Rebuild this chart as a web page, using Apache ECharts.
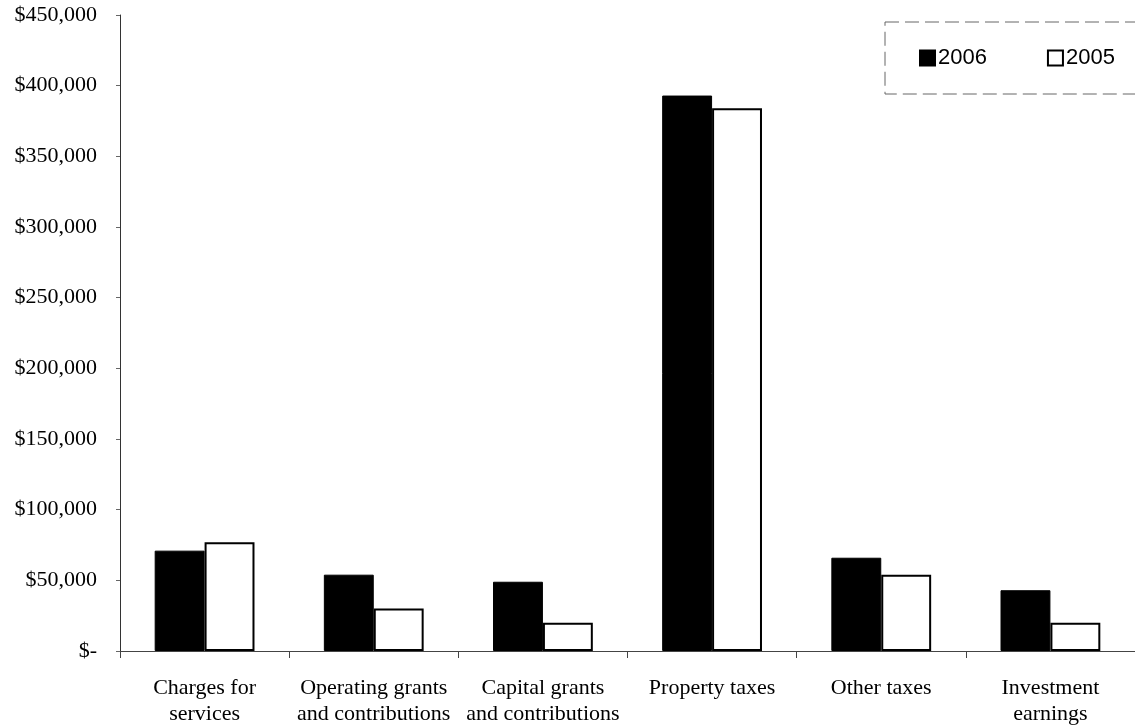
<!DOCTYPE html>
<html>
<head>
<meta charset="utf-8">
<title>Revenues by Source, 2006 and 2005</title>
<script src="https://cdn.jsdelivr.net/npm/echarts@6/dist/echarts.min.js"></script>
<style>
  html, body { margin: 0; padding: 0; background: #ffffff; }
  #chart { width: 1135px; height: 727px; }
</style>
</head>
<body>
<div id="chart"></div>
<script>
// Revenue categories (two-line labels)
const categories = [
  'Charges for\nservices',
  'Operating grants\nand contributions',
  'Capital grants\nand contributions',
  'Property taxes',
  'Other taxes',
  'Investment\nearnings'
];

// Revenue amounts by year
const revenue2006 = [71000, 54000, 49000, 393000, 66000, 43000];
const revenue2005 = [77000, 30000, 20000, 384000, 54000, 20000];

const seriesNames = ['2006', '2005'];

// Value axis range
const yMin = 0;
const yMax = 450000;
const yStep = 50000;

function money(v) {
  if (v === 0) return '$-';
  return '$' + v.toLocaleString('en-US');
}

const serif = '"Liberation Serif", "Times New Roman", serif';
const sans = '"Liberation Sans", Arial, sans-serif';

const chart = echarts.init(document.getElementById('chart'), null, { renderer: 'canvas' });

chart.setOption({
  animation: false,
  backgroundColor: '#ffffff',
  grid: { left: 120, right: -5, top: 15, bottom: 76, containLabel: false },
  legend: {
    data: seriesNames,
    left: 885,
    top: 22,
    width: 320,
    orient: 'horizontal',
    icon: 'rect',
    itemWidth: 15,
    itemHeight: 15,
    itemGap: 60,
    padding: [25, 60, 25, 34],
    borderColor: '#666666',
    borderWidth: 1,
    borderType: [14, 6],
    textStyle: { fontFamily: sans, fontSize: 22, color: '#000000', padding: [0, 0, 0, -2] }
  },
  xAxis: {
    type: 'category',
    data: categories,
    axisLine: { show: true, lineStyle: { color: '#444444', width: 1 } },
    axisTick: { show: true, interval: 0, length: 7, lineStyle: { color: '#444444' } },
    axisLabel: {
      interval: 0,
      margin: 24,
      fontFamily: serif,
      fontSize: 22,
      lineHeight: 26,
      color: '#000000'
    },
    splitLine: { show: false }
  },
  yAxis: {
    type: 'value',
    min: yMin,
    max: yMax,
    interval: yStep,
    axisLine: { show: true, lineStyle: { color: '#333333', width: 1 } },
    axisTick: { show: true, length: 4, lineStyle: { color: '#666666' } },
    axisLabel: {
      formatter: money,
      margin: 23,
      fontFamily: serif,
      fontSize: 22,
      color: '#000000'
    },
    splitLine: { show: false }
  },
  series: [
    {
      name: seriesNames[0],
      type: 'bar',
      data: revenue2006,
      barGap: '0%',
      barCategoryGap: '41%',
      itemStyle: { color: '#000000', borderColor: '#000000', borderWidth: 1 }
    },
    {
      name: seriesNames[1],
      type: 'bar',
      data: revenue2005,
      barGap: '0%',
      barCategoryGap: '41%',
      itemStyle: { color: '#ffffff', borderColor: '#000000', borderWidth: 2 }
    }
  ]
});
</script>
</body>
</html>
